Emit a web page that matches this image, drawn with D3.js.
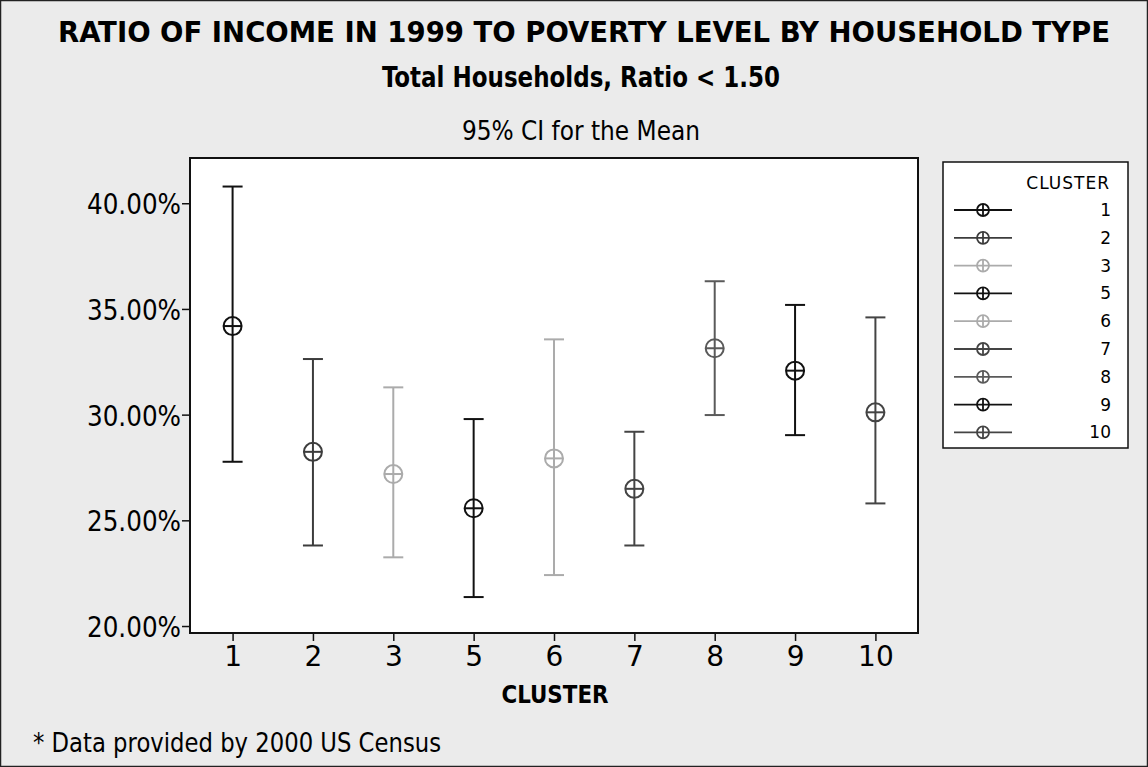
<!DOCTYPE html>
<html>
<head>
<meta charset="utf-8">
<script src="https://cdn.jsdelivr.net/npm/d3@7"></script>
<style>
  html, body { margin: 0; padding: 0; background: #ebebeb; }
  svg { display: block; }
  text { font-family: "DejaVu Sans", Verdana, sans-serif; fill: #000; }
  .cond { font-family: "DejaVu Sans Condensed", "DejaVu Sans", sans-serif; }
</style>
</head>
<body>
<svg id="chart" width="1148" height="767"></svg>
<script>
// Household clusters and 95% CI of the share of households with income-to-poverty ratio < 1.50
const clusters = ["1", "2", "3", "5", "6", "7", "8", "9", "10"];
const means    = [34.19, 28.24, 27.19, 25.57, 27.93, 26.49, 33.14, 32.08, 30.11];
const upper    = [40.79, 32.63, 31.29, 29.79, 33.56, 29.19, 36.31, 35.19, 34.60];
const lower    = [27.77, 23.81, 23.25, 21.37, 22.41, 23.81, 29.98, 29.03, 25.80];
const yTicks   = [20, 25, 30, 35, 40];
const colours  = ["#111111", "#3c3c3c", "#ababab", "#111111", "#ababab", "#444444", "#5a5a5a", "#111111", "#444444"];

const data = clusters.map((c, i) => ({ c, mean: means[i], hi: upper[i], lo: lower[i], col: colours[i] }));

const svg = d3.select("#chart");
const W = 1148, H = 767;

// page background with a thin frame
svg.append("rect").attr("x", 0.5).attr("y", 0.5).attr("width", W - 1).attr("height", H - 1)
  .attr("fill", "#ebebeb").attr("stroke", "#222").attr("stroke-width", 1.5);

// titles
svg.append("text").attr("class", "cond").attr("x", 584).attr("y", 42).attr("text-anchor", "middle")
  .attr("font-size", 28).attr("font-weight", "bold")
  .attr("textLength", 1052).attr("lengthAdjust", "spacingAndGlyphs")
  .text("RATIO OF INCOME IN 1999 TO POVERTY LEVEL BY HOUSEHOLD TYPE");
svg.append("text").attr("class", "cond").attr("x", 581).attr("y", 87).attr("text-anchor", "middle")
  .attr("font-size", 29).attr("font-weight", "bold")
  .attr("textLength", 398).attr("lengthAdjust", "spacingAndGlyphs")
  .text("Total Households, Ratio < 1.50");
svg.append("text").attr("class", "cond").attr("x", 581).attr("y", 140).attr("text-anchor", "middle")
  .attr("font-size", 26)
  .attr("textLength", 238).attr("lengthAdjust", "spacingAndGlyphs")
  .text("95% CI for the Mean");

// plot area
const plot = { left: 190, top: 158, right: 918, bottom: 633 };

const x = d3.scalePoint().domain(clusters)
  .range([plot.left, plot.right]).padding(0.53);
const y = d3.scaleLinear().domain([19.67, 42.14]).range([plot.bottom, plot.top]);

svg.append("rect")
  .attr("x", plot.left).attr("y", plot.top)
  .attr("width", plot.right - plot.left).attr("height", plot.bottom - plot.top)
  .attr("fill", "#fff").attr("stroke", "#111").attr("stroke-width", 2);

// y axis
const yAxis = svg.append("g").attr("transform", `translate(${plot.left},0)`)
  .call(d3.axisLeft(y).tickValues(yTicks).tickSize(8).tickPadding(1)
    .tickFormat(d => d.toFixed(2) + "%"));
yAxis.select(".domain").remove();
yAxis.selectAll(".tick line").attr("stroke", "#111").attr("stroke-width", 1.5);
yAxis.selectAll(".tick text").attr("font-size", 28).attr("font-family", "DejaVu Sans Condensed, DejaVu Sans")
  .attr("fill", "#000").attr("dy", "0.38em")
  .attr("textLength", 94).attr("lengthAdjust", "spacingAndGlyphs");

// x axis
const xAxis = svg.append("g").attr("transform", `translate(0,${plot.bottom})`)
  .call(d3.axisBottom(x).tickSize(8).tickPadding(5));
xAxis.select(".domain").remove();
xAxis.selectAll(".tick line").attr("stroke", "#111").attr("stroke-width", 1.5);
xAxis.selectAll(".tick text").attr("font-size", 28).attr("font-family", "DejaVu Sans")
  .attr("fill", "#000");

svg.append("text").attr("class", "cond").attr("x", 555).attr("y", 703).attr("text-anchor", "middle")
  .attr("font-size", 24).attr("font-weight", "bold")
  .attr("textLength", 107).attr("lengthAdjust", "spacingAndGlyphs")
  .text("CLUSTER");

// interval plot: whiskers, caps and circled-cross mean symbols
const capW = 10, r = 9;
const g = svg.append("g");
const items = g.selectAll("g.ci").data(data).join("g").attr("class", "ci")
  .attr("stroke", d => d.col).attr("stroke-width", 2).attr("fill", "none");
items.append("line")
  .attr("x1", d => x(d.c)).attr("x2", d => x(d.c))
  .attr("y1", d => y(d.hi)).attr("y2", d => y(d.lo));
items.append("line")
  .attr("x1", d => x(d.c) - capW).attr("x2", d => x(d.c) + capW)
  .attr("y1", d => y(d.hi)).attr("y2", d => y(d.hi));
items.append("line")
  .attr("x1", d => x(d.c) - capW).attr("x2", d => x(d.c) + capW)
  .attr("y1", d => y(d.lo)).attr("y2", d => y(d.lo));
items.append("circle")
  .attr("cx", d => x(d.c)).attr("cy", d => y(d.mean)).attr("r", r)
  .attr("fill", "#fff");
items.append("line")
  .attr("x1", d => x(d.c) - r).attr("x2", d => x(d.c) + r)
  .attr("y1", d => y(d.mean)).attr("y2", d => y(d.mean));
items.append("line")
  .attr("x1", d => x(d.c)).attr("x2", d => x(d.c))
  .attr("y1", d => y(d.mean) - r).attr("y2", d => y(d.mean) + r);

// legend
const lg = svg.append("g");
lg.append("rect").attr("x", 943).attr("y", 162).attr("width", 185).attr("height", 286)
  .attr("fill", "#fff").attr("stroke", "#111").attr("stroke-width", 1.5);
lg.append("text").attr("x", 1110).attr("y", 189).attr("text-anchor", "end")
  .attr("font-size", 17).attr("letter-spacing", 1).text("CLUSTER");
const rowY = i => 210 + i * 27.8;
const rows = lg.selectAll("g.row").data(data).join("g").attr("class", "row")
  .attr("stroke", d => d.col).attr("stroke-width", 1.8);
rows.append("circle").attr("cx", 983).attr("cy", (d, i) => rowY(i)).attr("r", 6)
  .attr("fill", "#fff");
rows.append("line").attr("x1", 954).attr("x2", 1012)
  .attr("y1", (d, i) => rowY(i)).attr("y2", (d, i) => rowY(i));
rows.append("line").attr("x1", 983).attr("x2", 983)
  .attr("y1", (d, i) => rowY(i) - 6).attr("y2", (d, i) => rowY(i) + 6);
rows.append("text").attr("x", 1111).attr("y", (d, i) => rowY(i) + 6)
  .attr("text-anchor", "end").attr("font-size", 17)
  .attr("stroke", "none").attr("fill", "#000").text(d => d.c);

// source note
svg.append("text").attr("x", 33).attr("y", 752)
  .attr("font-size", 27)
  .attr("textLength", 408).attr("lengthAdjust", "spacingAndGlyphs")
  .text("* Data provided by 2000 US Census");
</script>
</body>
</html>
